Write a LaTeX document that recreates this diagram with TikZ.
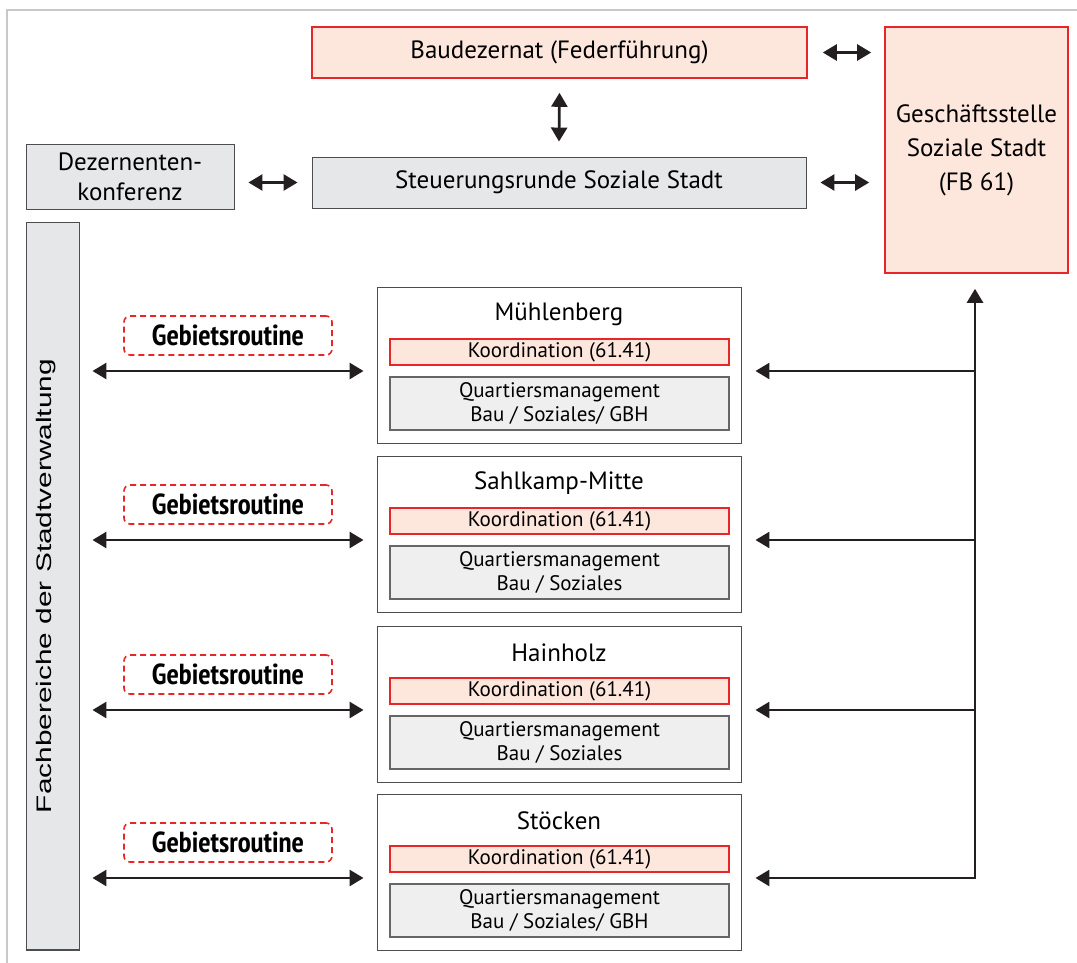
\documentclass[tikz,border=0pt]{standalone}
\usepackage{fontspec}
\setmainfont{PT Sans}
\newfontfamily\narrowfont{PT Sans Narrow}
\newfontfamily\arialfont{Liberation Sans}
\usetikzlibrary{arrows.meta}
\definecolor{redline}{HTML}{E8262A}
\definecolor{pinkfill}{HTML}{FDE6DC}
\definecolor{grayfill}{HTML}{E6E7E8}
\definecolor{qmfill}{HTML}{EFEFEF}
\definecolor{darkline}{HTML}{4D4D4F}
\definecolor{arrowcol}{HTML}{231F20}
\definecolor{framecol}{HTML}{C8C8C8}
\tikzset{
  redbox/.style={draw=redline, line width=1.6pt, fill=pinkfill, inner sep=0pt, align=center},
  graybox/.style={draw=darkline, line width=0.9pt, fill=grayfill, inner sep=0pt, align=center},
  areabox/.style={draw=darkline, line width=0.9pt, fill=white, inner sep=0pt, minimum width=364pt, minimum height=156pt},
  koordbox/.style={draw=redline, line width=1.3pt, fill=pinkfill, inner sep=0pt, minimum width=339pt, minimum height=26pt, font=\fontsize{21}{24}\selectfont},
  qmbox/.style={draw=gray!80!black, line width=1.3pt, fill=qmfill, inner sep=0pt, minimum width=339pt, minimum height=53pt, align=center, font=\fontsize{21}{24}\selectfont},
  routinebox/.style={draw=redline, dashed, dash pattern=on 6pt off 4pt, line width=1.6pt, rounded corners=6pt, inner sep=0pt, minimum width=208pt, minimum height=39pt, font=\narrowfont\bfseries\fontsize{29}{32}\selectfont},
  titletext/.style={inner sep=0pt, font=\fontsize{25}{29}\selectfont},
  conn/.style={arrowcol, line width=2.7pt, {Triangle[length=14pt,width=16pt]}-{Triangle[length=14pt,width=16pt]}},
  oneway/.style={arrowcol, line width=2.7pt, -{Triangle[length=14pt,width=16pt]}},
}
\begin{document}
\begin{tikzpicture}[x=1pt, y=-1pt]
\useasboundingbox (0,0) rectangle (1077,963);
\draw[framecol, line width=1.3pt] (7,963) -- (7,10) -- (1077,10);

\node[redbox, minimum width=495pt, minimum height=51pt, font=\fontsize{25}{29}\selectfont] (baud) at (559.5,52.5) {Baudezernat (Federführung)};
\node[redbox, minimum width=183pt, minimum height=246pt, font=\fontsize{25}{34}\selectfont] (gesch) at (976.5,150) {Geschäftsstelle\\Soziale Stadt\\(FB 61)};
\node[graybox, minimum width=494pt, minimum height=51pt, font=\fontsize{25}{29}\selectfont] (steu) at (559,182.5) {Steuerungsrunde Soziale Stadt};
\node[graybox, minimum width=208pt, minimum height=65pt, font=\fontsize{25}{30}\selectfont] (dez) at (130,176.5) {Dezernenten-\\konferenz};
\node[graybox, minimum width=53pt, minimum height=728pt] (fach) at (52.5,586) {};
\draw[darkline, line width=2pt] (fach.south west) -- (fach.south east);
\node[rotate=90, inner sep=0pt, font=\arialfont\fontsize{21}{24}\selectfont] (fachtext) at (46,586) {\scalebox{1.42}[1]{Fachbereiche der Stadtverwaltung}};

\draw[conn] ([xshift=15pt]baud.east) -- ([xshift=-13pt]gesch.west |- baud.east);
\draw[conn] ([xshift=14pt]steu.east) -- ([xshift=-15pt]gesch.west |- steu.east);
\draw[conn] ([xshift=14pt]dez.east |- steu.west) -- ([xshift=-14pt]steu.west);
\draw[conn] ([yshift=-14pt]baud.south) -- ([yshift=15pt]steu.north);

\foreach \i/\yo/\name/\qm in {1/287/Mühlenberg/{Bau / Soziales/ GBH}, 2/456/Sahlkamp-Mitte/{Bau / Soziales}, 3/626/Hainholz/{Bau / Soziales}, 4/794/Stöcken/{Bau / Soziales/ GBH}}{
  \node[areabox] (area\i) at (559,\yo+78) {};
  \node[titletext] (title\i) at (559,\yo+27) {\name};
  \node[koordbox] (koord\i) at (559.5,\yo+65) {Koordination (61.41)};
  \node[qmbox] (qm\i) at (559.5,\yo+116.5) {Quartiersmanagement\\\qm};
  \node[routinebox] (routine\i) at (228,\yo+48.5) {Gebietsroutine};
  \coordinate (row\i) at (0,\yo+84);
  \coordinate (bus\i) at (975,\yo+84);
  \draw[conn] ([xshift=13pt]fach.east |- row\i) -- ([xshift=-13pt]area\i.west |- row\i);
  \draw[oneway] (bus\i) -- ([xshift=14pt]area\i.east |- row\i);
}
\draw[oneway, line cap=rect] (bus4) -- ([yshift=-15pt]bus4 |- gesch.south);
\end{tikzpicture}
\end{document}
